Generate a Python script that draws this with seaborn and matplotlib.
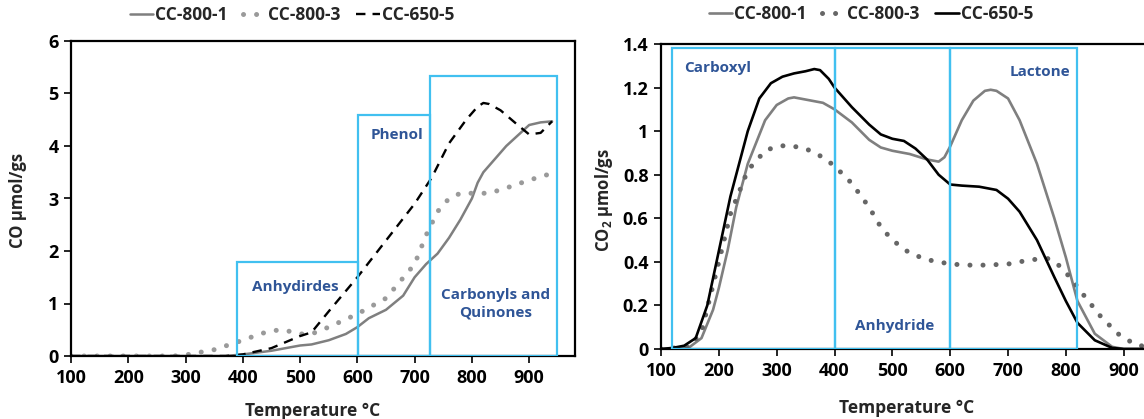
import matplotlib
matplotlib.use("Agg")
import matplotlib.pyplot as plt
import seaborn as sns
import pandas as pd
from matplotlib.patches import Rectangle
from matplotlib.lines import Line2D

# ---------------- data: left panel (CO) ----------------
co_800_1_t = [100, 200, 300, 370, 400, 450, 500, 520, 550, 580, 600, 620, 650, 680, 700,
              720, 740, 760, 780, 800, 810, 820, 840, 860, 880, 900, 920, 940]
co_800_1_v = [0, 0, 0, 0, 0.03, 0.1, 0.2, 0.22, 0.3, 0.42, 0.55, 0.72, 0.88, 1.15, 1.5,
              1.75, 1.95, 2.25, 2.6, 3.0, 3.3, 3.5, 3.75, 4.0, 4.2, 4.4, 4.45, 4.47]

co_800_3_t = [100, 200, 280, 300, 350, 400, 430, 450, 470, 500, 520, 550, 600, 650, 700,
              720, 740, 760, 780, 800, 830, 860, 900, 940]
co_800_3_v = [0, 0, 0, 0.02, 0.12, 0.3, 0.42, 0.48, 0.5, 0.42, 0.42, 0.55, 0.8, 1.1, 1.75,
              2.3, 2.75, 3.0, 3.1, 3.1, 3.1, 3.2, 3.35, 3.48]

co_650_5_t = [100, 200, 300, 370, 400, 450, 500, 520, 550, 600, 650, 700, 730, 760, 790,
              810, 820, 830, 850, 880, 900, 920, 940]
co_650_5_v = [0, 0, 0, 0, 0.03, 0.15, 0.38, 0.45, 0.85, 1.5, 2.2, 2.9, 3.4, 4.05, 4.5,
              4.75, 4.82, 4.8, 4.68, 4.4, 4.22, 4.25, 4.47]

# ---------------- data: right panel (CO2) ----------------
co2_800_1_t = [100, 120, 150, 170, 190, 200, 215, 230, 250, 280, 300, 320, 330, 350, 380,
               400, 430, 460, 480, 500, 530, 560, 580, 590, 600, 620, 640, 660, 670, 680,
               700, 720, 750, 780, 800, 820, 850, 880, 900, 940]
co2_800_1_v = [0, 0.002, 0.01, 0.05, 0.18, 0.28, 0.45, 0.65, 0.85, 1.05, 1.12, 1.15, 1.155,
               1.145, 1.13, 1.1, 1.04, 0.96, 0.925, 0.91, 0.895, 0.87, 0.86, 0.88, 0.93,
               1.05, 1.14, 1.185, 1.19, 1.185, 1.15, 1.05, 0.85, 0.6, 0.42, 0.22, 0.07,
               0.01, 0.0, 0.0]

co2_800_3_t = [100, 150, 170, 200, 220, 250, 280, 300, 320, 350, 380, 400, 430, 460, 480,
               500, 530, 560, 600, 630, 660, 700, 740, 770, 790, 810, 830, 860, 890, 920, 950]
co2_800_3_v = [0, 0.01, 0.08, 0.4, 0.62, 0.82, 0.91, 0.93, 0.935, 0.92, 0.88, 0.84, 0.76,
               0.65, 0.56, 0.5, 0.44, 0.41, 0.39, 0.385, 0.385, 0.39, 0.41, 0.415, 0.38,
               0.32, 0.25, 0.15, 0.07, 0.02, 0.005]

co2_650_5_t = [100, 120, 140, 160, 180, 200, 220, 250, 270, 290, 310, 330, 350, 365, 375,
               390, 400, 430, 460, 480, 500, 520, 540, 560, 580, 600, 620, 650, 680, 700,
               720, 750, 780, 800, 820, 850, 880, 900, 940]
co2_650_5_v = [0, 0.005, 0.015, 0.05, 0.2, 0.45, 0.7, 1.0, 1.15, 1.22, 1.25, 1.265, 1.275,
               1.285, 1.28, 1.24, 1.2, 1.11, 1.03, 0.985, 0.965, 0.955, 0.92, 0.87, 0.8,
               0.755, 0.75, 0.745, 0.73, 0.69, 0.63, 0.5, 0.33, 0.22, 0.12, 0.04, 0.005,
               0, 0]

series_names = ["CC-800-1", "CC-800-3", "CC-650-5"]

# region boxes: (x0, x1, top, label, label_x, label_y)
left_regions = [(390, 601, 1.79, "Anhydirdes", 491, 1.31),
                (601, 727, 4.59, "Phenol", 669, 4.21),
                (727, 948, 5.33, "Carbonyls and\nQuinones", 842, 1.0)]
right_regions = [(119, 400, 1.38, "Carboxyl", 198, 1.29),
                 (400, 600, 1.38, "Anhydride", 504, 0.105),
                 (600, 820, 1.38, "Lactone", 755, 1.27)]

left_yticks = [0, 1, 2, 3, 4, 5, 6]
right_yticks = [0, 0.2, 0.4, 0.6, 0.8, 1, 1.2, 1.4]
right_yticklabels = ["0", "0.2", "0.4", "0.6", "0.8", "1", "1.2", "1.4"]
xticks = [100, 200, 300, 400, 500, 600, 700, 800, 900]

# ---------------- style ----------------
sns.set_style("white")
plt.rcParams["font.family"] = ["Open Sans", "DejaVu Sans"]
plt.rcParams["font.weight"] = "bold"

BOX = "#41C0F0"
TXT = "#2F5597"
GRAY = "#7F7F7F"
DOT_L = "#9A9A9A"
DOT_R = "#666666"
TICK_FS = 13

fig = plt.figure(figsize=(11.44, 4.19), dpi=100)
axL = fig.add_axes([71 / 1144, 1 - 356 / 419, 504 / 1144, 315 / 419])
axR = fig.add_axes([661 / 1144, 1 - 349 / 419, 509 / 1144, 305 / 419])

dot_style = (0, (0.01, 2.6))
dash_style = (0, (4, 3))

# left
sns.lineplot(x=co_800_1_t, y=co_800_1_v, ax=axL, color=GRAY, lw=1.8, estimator=None, sort=False)
sns.lineplot(x=co_800_3_t, y=co_800_3_v, ax=axL, color=DOT_L, lw=3.6, estimator=None, sort=False,
             linestyle=dot_style, dash_capstyle="round")
sns.lineplot(x=co_650_5_t, y=co_650_5_v, ax=axL, color="black", lw=1.7, estimator=None, sort=False,
             linestyle=dash_style)

# right
sns.lineplot(x=co2_800_1_t, y=co2_800_1_v, ax=axR, color=GRAY, lw=1.9, estimator=None, sort=False)
sns.lineplot(x=co2_800_3_t, y=co2_800_3_v, ax=axR, color=DOT_R, lw=3.6, estimator=None, sort=False,
             linestyle=dot_style, dash_capstyle="round")
sns.lineplot(x=co2_650_5_t, y=co2_650_5_v, ax=axR, color="black", lw=1.9, estimator=None, sort=False)


def boxes(ax, regions):
    for x0, x1, top, lab, lx, ly in regions:
        ax.add_patch(Rectangle((x0, 0.0), x1 - x0, top, fill=False, edgecolor=BOX,
                               lw=1.6, zorder=5))
        ax.text(lx, ly, lab, color=TXT, fontsize=11, fontweight="bold",
                ha="center", va="center", linespacing=1.3, zorder=6)


boxes(axL, left_regions)
boxes(axR, right_regions)

for ax in (axL, axR):
    ax.set_xlim(100, 980)
    ax.set_xticks(xticks)
    ax.set_xticklabels([str(t) for t in xticks], fontsize=TICK_FS, fontweight="bold")
    for s in ax.spines.values():
        s.set_visible(True)
        s.set_color("black")
        s.set_linewidth(1.6)
    ax.tick_params(axis="both", direction="out", length=5, width=1.2, colors="black",
                   bottom=True, left=True, pad=4)
    ax.set_xlabel("Temperature °C", fontsize=12.5, fontweight="bold")

axL.set_ylim(0, 6)
axL.set_yticks(left_yticks)
axL.set_yticklabels([str(t) for t in left_yticks], fontsize=TICK_FS, fontweight="bold")
axL.set_ylabel("CO µmol/gs", fontsize=12, fontweight="bold")
axL.xaxis.set_label_coords(0.48, -0.145)
axL.yaxis.set_label_coords(-0.087, 0.495)

axR.set_ylim(0, 1.4)
axR.set_yticks(right_yticks)
axR.set_yticklabels(right_yticklabels, fontsize=TICK_FS, fontweight="bold")
axR.set_ylabel("CO$_\\mathregular{2}$ µmol/gs", fontsize=12, fontweight="bold")
axR.xaxis.set_label_coords(0.483, -0.164)
axR.yaxis.set_label_coords(-0.09, 0.49)

# legends
hL = [Line2D([], [], color=GRAY, lw=1.8),
      Line2D([], [], color=DOT_L, lw=3.6, linestyle=dot_style, dash_capstyle="round"),
      Line2D([], [], color="black", lw=1.7, linestyle=dash_style)]
hR = [Line2D([], [], color=GRAY, lw=1.9),
      Line2D([], [], color=DOT_R, lw=3.6, linestyle=dot_style, dash_capstyle="round"),
      Line2D([], [], color="black", lw=1.9)]
for h, cx, cy in ((hL, 292 / 1144, 1 - 15 / 419), (hR, 871 / 1144, 1 - 14 / 419)):
    fig.legend(h, series_names, loc="center", bbox_to_anchor=(cx, cy), ncol=3, frameon=False,
               handlelength=1.35, handletextpad=0.1, columnspacing=0.9,
               prop={"size": 12.5, "weight": "bold"})

fig.savefig("out.png", dpi=100)
